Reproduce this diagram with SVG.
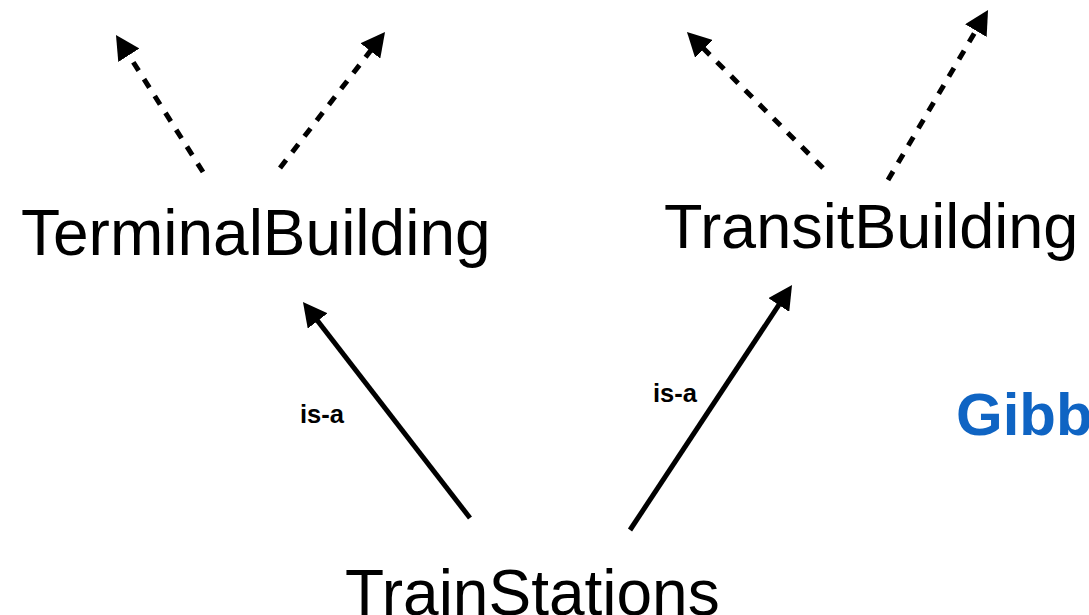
<svg xmlns="http://www.w3.org/2000/svg" width="1089" height="615" viewBox="0 0 1089 615">
<defs>
<style>
.node{font-family:"Liberation Sans",Arial,sans-serif;font-size:64px;fill:#000}
.lbl{font-family:"Liberation Sans",Arial,sans-serif;font-size:25.5px;font-weight:bold;fill:#000}
.blue{font-family:"Liberation Sans",Arial,sans-serif;font-size:60px;font-weight:bold;fill:#0f64c3}
.solid{stroke:#000;stroke-width:5;fill:none;marker-end:url(#ah)}
.dash{stroke:#000;stroke-width:5;fill:none;stroke-dasharray:10 10;marker-end:url(#ah)}
</style>
<marker id="ah" viewBox="0 0 24 25" markerWidth="24" markerHeight="25" markerUnits="userSpaceOnUse" refX="4" refY="12.5" orient="auto">
<path d="M0,0 L24,12.5 L0,25 Z" fill="#000"/>
</marker>
</defs>
<rect width="1089" height="615" fill="#fff"/>
<g id="connectors">
<line class="solid" x1="470" y1="518" x2="315.2" y2="317.8"/>
<line class="solid" x1="630" y1="530" x2="781" y2="301.7"/>
<line class="dash" x1="203" y1="172" x2="126.7" y2="51.9"/>
<line class="dash" x1="280" y1="168" x2="372.8" y2="47.8"/>
<line class="dash" x1="823" y1="168" x2="701.1" y2="46.1"/>
<line class="dash" x1="888" y1="180" x2="977.9" y2="27.2"/>
<text class="lbl" x="300" y="423">is-a</text>
<text class="lbl" x="653" y="402">is-a</text>
</g>
<g id="TerminalBuilding"><text class="node" x="21" y="255">TerminalBuilding</text></g>
<g id="TransitBuilding"><text class="node" x="664" y="248" style="font-size:63px">TransitBuilding</text></g>
<g id="TrainStations"><text class="node" x="345" y="615">TrainStations</text></g>
<g id="Gibb"><text class="blue" x="956" y="435">Gibb</text></g>
</svg>
